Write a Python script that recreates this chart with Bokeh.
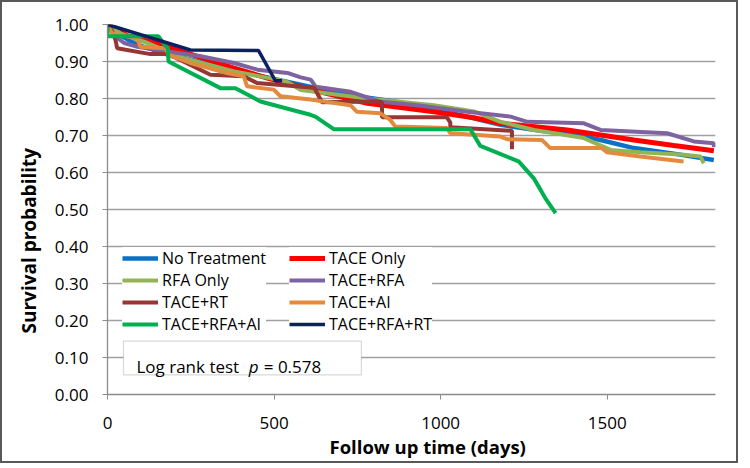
import math
from bokeh.plotting import figure
from bokeh.models import (Legend, LegendItem, Label, BoxAnnotation, FixedTicker,
                          NumeralTickFormatter, Range1d, Title)
from bokeh.embed import file_html
from bokeh.resources import INLINE

# ---------------- data ----------------
series_names = ["No Treatment", "TACE Only", "RFA Only", "TACE+RFA",
                "TACE+RT", "TACE+AI", "TACE+RFA+AI", "TACE+RFA+RT"]
series_colors = ["#0A72C4", "#FF0000", "#92B456", "#7F62A0",
                 "#953735", "#E48A3F", "#00B050", "#0B2161"]

no_treatment_days = [0, 30, 90, 180, 300, 400, 500, 600, 730, 850, 930, 1050, 1180, 1300, 1380, 1480, 1580, 1700, 1820]
no_treatment_surv = [1.0, 0.975, 0.945, 0.92, 0.895, 0.873, 0.853, 0.833, 0.809, 0.793, 0.782, 0.757, 0.729, 0.713, 0.706, 0.688, 0.666, 0.651, 0.634]

tace_only_days = [0, 60, 140, 280, 380, 480, 610, 780, 980, 1100, 1180, 1380, 1580, 1700, 1820]
tace_only_surv = [1.0, 0.97, 0.95, 0.911, 0.882, 0.855, 0.824, 0.787, 0.764, 0.748, 0.733, 0.715, 0.688, 0.673, 0.659]

rfa_only_days = [0, 40, 120, 230, 380, 510, 540, 580, 780, 980, 1100, 1180, 1280, 1430, 1510, 1600, 1730, 1780, 1790]
rfa_only_surv = [1.0, 0.975, 0.95, 0.909, 0.873, 0.851, 0.845, 0.823, 0.80, 0.782, 0.765, 0.737, 0.715, 0.693, 0.661, 0.655, 0.648, 0.643, 0.625]

tace_rfa_days = [0, 20, 50, 90, 180, 280, 380, 450, 540, 580, 610, 625, 730, 820, 930, 1080, 1210, 1260, 1430, 1480, 1680, 1760, 1820, 1820]
tace_rfa_surv = [1.0, 0.97, 0.95, 0.94, 0.927, 0.914, 0.896, 0.878, 0.869, 0.857, 0.851, 0.832, 0.818, 0.791, 0.782, 0.764, 0.751, 0.737, 0.733, 0.715, 0.706, 0.684, 0.679, 0.668]

tace_rt_days = [0, 12, 24, 29, 129, 174, 200, 309, 409, 449, 609, 620, 644, 809, 824, 824, 1019, 1029, 1029, 1209, 1214, 1214]
tace_rt_surv = [1.0, 0.985, 0.958, 0.936, 0.92, 0.92, 0.912, 0.864, 0.86, 0.842, 0.83, 0.83, 0.79, 0.792, 0.79, 0.749, 0.749, 0.735, 0.722, 0.713, 0.713, 0.663]

tace_ai_days = [0, 14, 89, 99, 174, 184, 249, 359, 409, 419, 499, 519, 609, 729, 749, 819, 849, 864, 1019, 1029, 1179, 1199, 1304, 1329, 1484, 1499, 1599, 1729]
tace_ai_surv = [1.0, 0.976, 0.963, 0.94, 0.936, 0.918, 0.896, 0.869, 0.86, 0.833, 0.824, 0.806, 0.797, 0.782, 0.764, 0.76, 0.742, 0.724, 0.72, 0.706, 0.697, 0.69, 0.688, 0.666, 0.666, 0.655, 0.643, 0.63]

tace_rfa_ai_days = [0, 0, 153, 176, 181, 183, 339, 384, 459, 609, 624, 679, 1089, 1119, 1234, 1279, 1300, 1314, 1345]
tace_rfa_ai_surv = [1.0, 0.968, 0.968, 0.94, 0.937, 0.90, 0.828, 0.828, 0.792, 0.756, 0.751, 0.717, 0.717, 0.672, 0.63, 0.585, 0.553, 0.531, 0.49]

tace_rfa_rt_days = [0, 249, 453, 504, 524]
tace_rfa_rt_surv = [1.0, 0.931, 0.930, 0.848, 0.848]

series_days = [no_treatment_days, tace_only_days, rfa_only_days, tace_rfa_days,
               tace_rt_days, tace_ai_days, tace_rfa_ai_days, tace_rfa_rt_days]
series_surv = [no_treatment_surv, tace_only_surv, rfa_only_surv, tace_rfa_surv,
               tace_rt_surv, tace_ai_surv, tace_rfa_ai_surv, tace_rfa_rt_surv]
series_widths = [4.5, 5, 4, 4, 4, 4, 4, 3.5]

x_ticks = [0, 500, 1000, 1500]
y_ticks = [0.0, 0.1, 0.2, 0.3, 0.4, 0.5, 0.6, 0.7, 0.8, 0.9, 1.0]

FONT = "Open Sans"

# ---------------- figure ----------------
p = figure(width=738, height=463, output_backend="svg", toolbar_location=None,
           x_range=Range1d(0, 1825), y_range=Range1d(0, 1.0),
           min_border_left=105, min_border_right=25, min_border_top=22,
           min_border_bottom=71)
p.outline_line_color = None
p.background_fill_color = "white"
p.border_fill_color = "white"
p.styles = {"border": "2px solid #595959"}

p.xgrid.grid_line_color = None
p.ygrid.grid_line_color = "#A0A0A0"
p.ygrid.grid_line_width = 1.3
p.ygrid.ticker = FixedTicker(ticks=y_ticks)

p.xaxis.ticker = FixedTicker(ticks=x_ticks)
p.yaxis.ticker = FixedTicker(ticks=y_ticks)
p.yaxis.formatter = NumeralTickFormatter(format="0.00")
for ax in (p.xaxis[0], p.yaxis[0]):
    ax.axis_line_color = "#8C8C8C"
    ax.axis_line_width = 1.3
    ax.major_tick_line_color = "#8C8C8C"
    ax.major_tick_in = 0
    ax.major_tick_out = 5
    ax.minor_tick_line_color = None
    ax.major_label_text_font = FONT
    ax.major_label_text_font_size = "17px"
    ax.major_label_text_color = "black"
p.yaxis.major_label_standoff = 14
p.xaxis.major_label_standoff = 17

renderers = []
for d, s, c, w in zip(series_days, series_surv, series_colors, series_widths):
    r = p.line(d, s, line_color=c, line_width=w)
    renderers.append(r)

def make_legend(idx, loc):
    items = [LegendItem(label=series_names[i], renderers=[renderers[i]]) for i in idx]
    leg = Legend(items=items, location=loc, orientation="vertical",
                 label_text_font=FONT, label_text_font_size="16px",
                 label_text_color="black",
                 label_height=20, glyph_height=20, glyph_width=36,
                 label_standoff=4, spacing=-2, padding=4, margin=0,
                 border_line_color=None, background_fill_color="white",
                 background_fill_alpha=1.0)
    return leg

p.add_layout(make_legend([0, 2, 4, 6], (15, 59)))
p.add_layout(make_legend([1, 3, 5, 7], (182, 59)))

# Log rank test box
p.add_layout(BoxAnnotation(left=48, right=762, bottom=0.053, top=0.1445,
                           fill_color="white", fill_alpha=1.0,
                           line_color="#808080", line_width=1.2))
p.add_layout(Label(x=87, y=0.0755, text="Log rank test", text_font=FONT,
                   text_font_size="17px", text_baseline="alphabetic", text_color="black"))
p.add_layout(Label(x=424, y=0.0755, text="p", text_font=FONT, text_font_style="italic",
                   text_font_size="17px", text_baseline="alphabetic", text_color="black"))
p.add_layout(Label(x=469, y=0.0755, text="= 0.578", text_font=FONT,
                   text_font_size="17px", text_baseline="alphabetic", text_color="black"))

# axis titles
p.add_layout(Title(text="Follow up time (days)", text_font=FONT, text_font_style="bold",
                   text_font_size="18.5px", text_color="black", align="left",
                   offset=222, standoff=1), "below")
p.add_layout(Title(text="Survival probability", text_font=FONT, text_font_style="bold",
                   text_font_size="19px", text_color="black", align="left",
                   offset=61, standoff=19), "left")

open("out.html", "w").write(file_html(p, INLINE))
